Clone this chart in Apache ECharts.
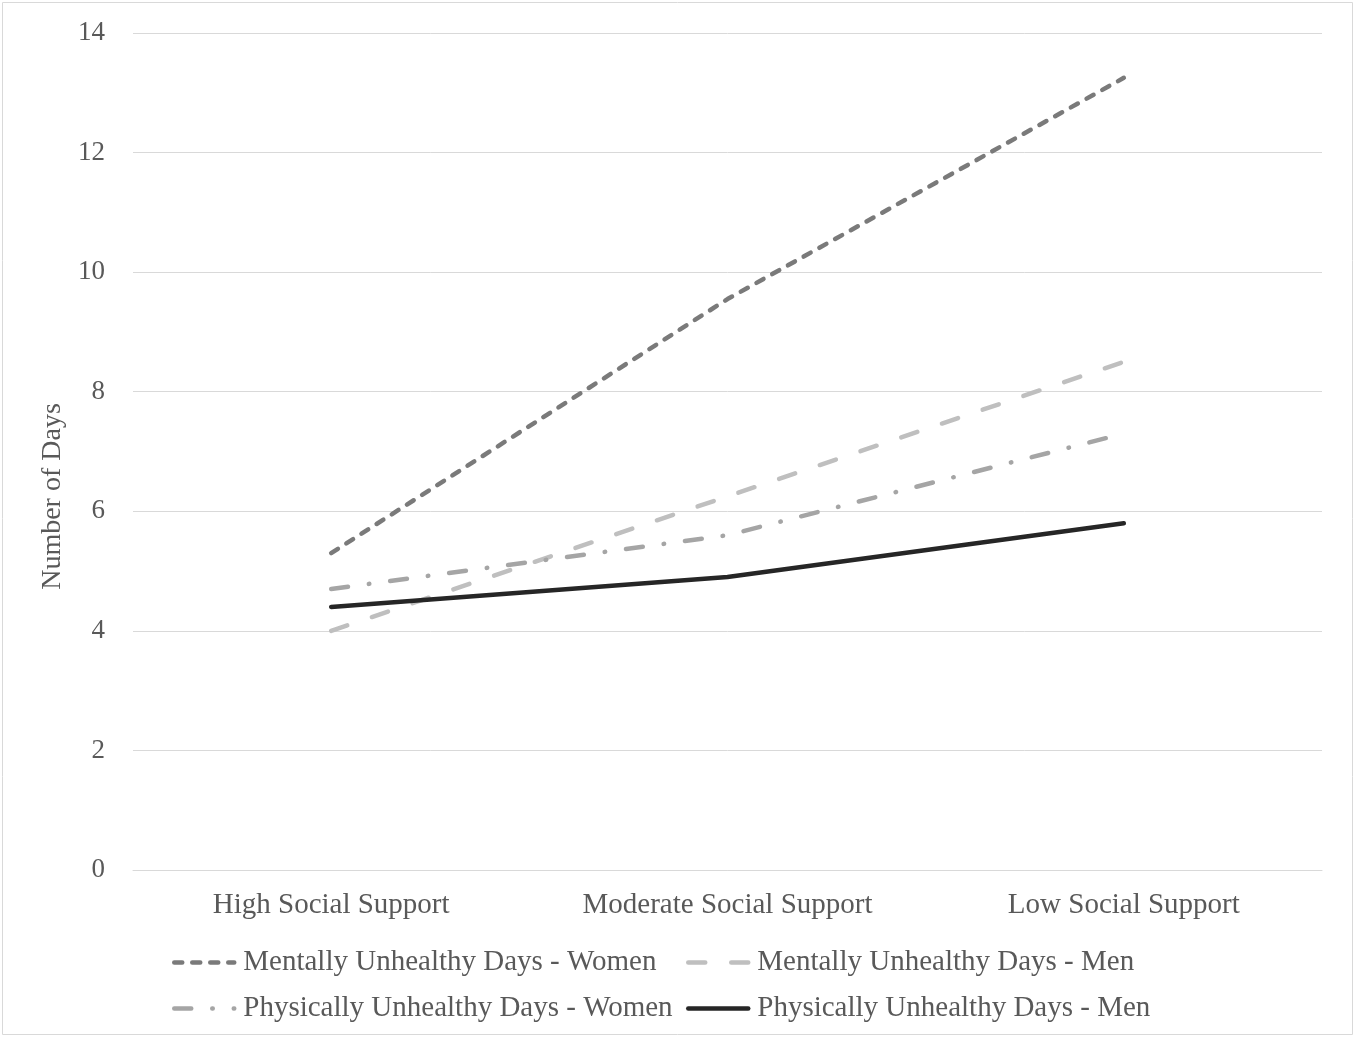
<!DOCTYPE html>
<html>
<head>
<meta charset="utf-8">
<script src="https://cdn.jsdelivr.net/npm/echarts@6/dist/echarts.min.js"></script>
<style>
  html, body { margin: 0; padding: 0; background: #fff; }
  #chart { width: 1357px; height: 1038px; }
</style>
</head>
<body>
<div id="chart"></div>
<script>
const categories = ['High Social Support', 'Moderate Social Support', 'Low Social Support'];
const mentalWomen = [5.3, 9.55, 13.25];
const mentalMen = [4.0, 6.25, 8.5];
const physicalWomen = [4.7, 5.6, 7.3];
const physicalMen = [4.4, 4.9, 5.8];
const yTicks = { min: 0, max: 14, interval: 2 };

const font = '"Liberation Serif", "Times New Roman", serif';
const textColor = '#595959';

const chart = echarts.init(document.getElementById('chart'));

function lineSeries(name, data, color, dash) {
  return {
    name,
    type: 'line',
    data,
    symbol: 'none',
    lineStyle: { color, width: 4.5, type: dash, cap: 'round' },
    itemStyle: { color },
  };
}

const legendBase = {
  orient: 'vertical',
  top: 943,
  itemGap: 17,
  itemWidth: 60,
  itemHeight: 14,
  itemStyle: { opacity: 0 },
  lineStyle: { width: 4.5, cap: 'round' },
  textStyle: { fontFamily: font, fontSize: 29, color: textColor, padding: [0, 0, 0, 4] },
};

chart.setOption({
  animation: false,
  textStyle: { fontFamily: font },
  graphic: [{
    type: 'rect',
    shape: { x: 2.5, y: 2.5, width: 1350, height: 1032 },
    style: { fill: 'none', stroke: '#d9d9d9', lineWidth: 1 },
  }],
  grid: { left: 133, right: 35, top: 33, bottom: 168 },
  legend: [
    Object.assign({}, legendBase, { left: 167, data: ['Mentally Unhealthy Days - Women', 'Physically Unhealthy Days - Women'] }),
    Object.assign({}, legendBase, { left: 681, data: ['Mentally Unhealthy Days - Men', 'Physically Unhealthy Days - Men'] }),
  ],
  xAxis: {
    type: 'category',
    data: categories,
    boundaryGap: true,
    axisLine: { lineStyle: { color: '#d9d9d9', width: 1 } },
    axisTick: { show: false },
    axisLabel: { color: textColor, fontSize: 29, fontFamily: font, margin: 21 },
  },
  yAxis: {
    type: 'value',
    min: yTicks.min,
    max: yTicks.max,
    interval: yTicks.interval,
    name: 'Number of Days',
    nameLocation: 'middle',
    nameGap: 62,
    nameTextStyle: { color: textColor, fontSize: 28, fontFamily: font, padding: [0, 90, 0, 0] },
    axisLine: { show: false },
    axisTick: { show: false },
    axisLabel: { color: textColor, fontSize: 27, fontFamily: font, margin: 28 },
    splitLine: { lineStyle: { color: '#d9d9d9', width: 1 } },
  },
  series: [
    lineSeries('Mentally Unhealthy Days - Women', mentalWomen, '#7a7a7a', [8, 10]),
    lineSeries('Mentally Unhealthy Days - Men', mentalMen, '#bfbfbf', [17, 26]),
    lineSeries('Physically Unhealthy Days - Women', physicalWomen, '#a5a5a5', [17, 21, 0.5, 21]),
    lineSeries('Physically Unhealthy Days - Men', physicalMen, '#262626', 'solid'),
  ],
});
</script>
</body>
</html>
